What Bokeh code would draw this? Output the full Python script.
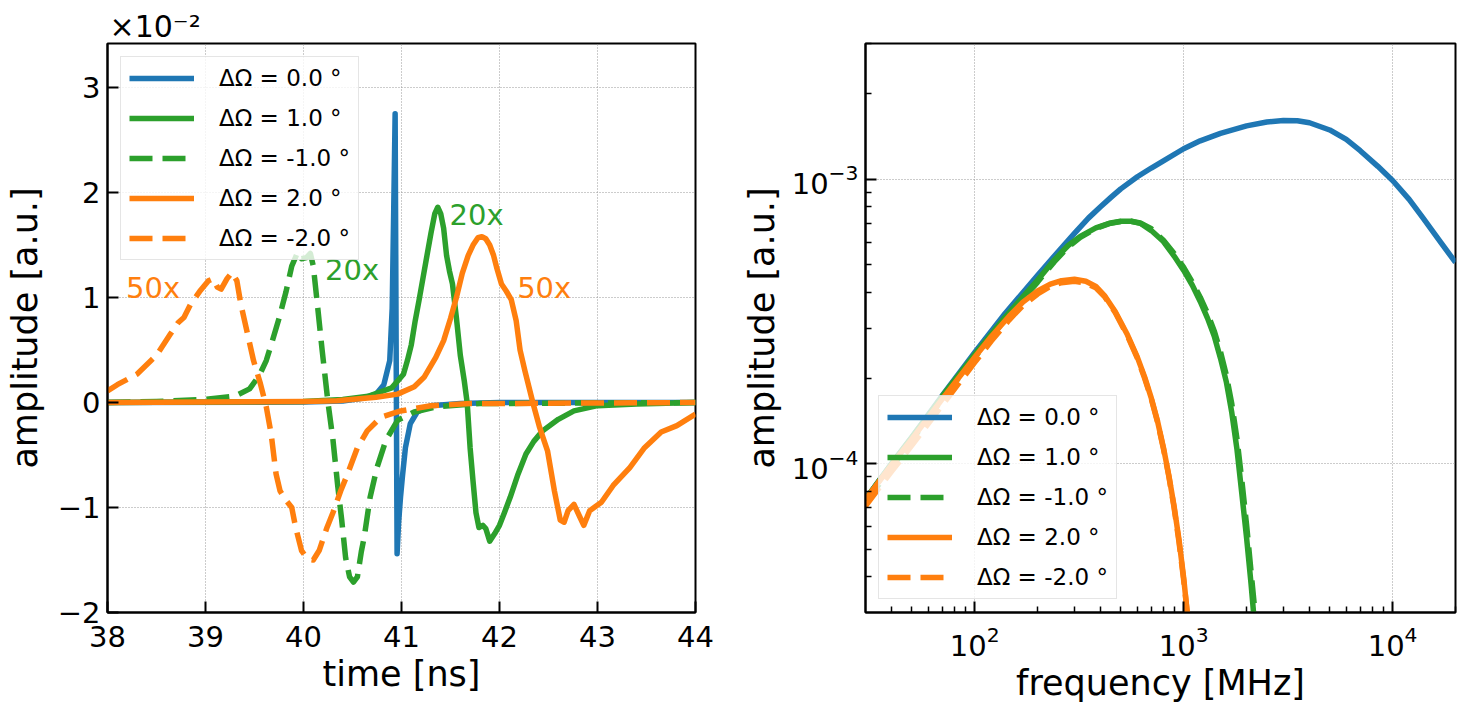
from bokeh.plotting import figure
from bokeh.layouts import row
from bokeh.models import Range1d, FixedTicker, CustomJSTickFormatter, Label, LogTickFormatter, Title
from bokeh.embed import file_html
from bokeh.resources import INLINE

FONT = "DejaVu Sans"
C_BLUE, C_GREEN, C_ORANGE = "#1f77b4", "#2ca02c", "#ff7f0e"
LW = 5.5
DASH = "23 10"

labels = ["ΔΩ = 0.0 °", "ΔΩ = 1.0 °", "ΔΩ = -1.0 °", "ΔΩ = 2.0 °", "ΔΩ = -2.0 °"]

# ---------------- time traces (amplitude in units of 1e-2) ----------------
t_b = [38.0, 40.0, 40.4, 40.6, 40.74, 40.82, 40.88, 40.905, 40.92, 40.935, 40.945, 40.955,
       40.97, 40.99, 41.01, 41.04, 41.09, 41.16, 41.30, 41.6, 42.0, 44.0]
a_b = [0.0, 0.005, 0.015, 0.04, 0.08, 0.17, 0.40, 0.9, 1.8, 2.75, 0.6, -1.44,
       -1.15, -0.90, -0.70, -0.43, -0.20, -0.09, -0.03, -0.01, 0.0, 0.0]

t_g1 = [38.0, 40.0, 40.4, 40.66, 40.9, 41.02, 41.06, 41.10, 41.14, 41.18, 41.22, 41.26, 41.30,
        41.34, 41.37, 41.40, 41.43, 41.46, 41.49, 41.52, 41.56, 41.60, 41.64, 41.67, 41.70,
        41.73, 41.76, 41.79, 41.83, 41.86, 41.90, 41.95, 42.0, 42.05, 42.11, 42.19, 42.27,
        42.35, 42.44, 42.60, 42.76, 43.0, 43.4, 44.0]
a_g1 = [0.0, 0.01, 0.03, 0.06, 0.14, 0.27, 0.40, 0.55, 0.78, 0.98, 1.19, 1.40, 1.61,
        1.80, 1.86, 1.80, 1.66, 1.40, 1.25, 1.13, 0.81, 0.45, 0.21, 0.0, -0.43,
        -0.75, -1.05, -1.19, -1.17, -1.20, -1.32, -1.25, -1.17, -1.05, -0.90, -0.68, -0.49,
        -0.37, -0.27, -0.16, -0.08, -0.03, -0.015, 0.0]

t_g2 = [38.0, 38.5, 39.0, 39.3, 39.45, 39.55, 39.62, 39.68, 39.75, 39.82, 39.88, 39.94, 39.98,
        40.03, 40.07, 40.10, 40.14, 40.19, 40.25, 40.30, 40.35, 40.39, 40.43, 40.47, 40.51,
        40.55, 40.59, 40.62, 40.68, 40.75, 40.84, 40.96, 41.13, 41.36, 41.8, 44.0]
a_g2 = [0.0, 0.01, 0.03, 0.06, 0.13, 0.26, 0.40, 0.58, 0.80, 1.05, 1.30, 1.43, 1.37,
        1.38, 1.42, 1.30, 0.95, 0.50, 0.0, -0.35, -0.80, -1.12, -1.48, -1.66, -1.71,
        -1.66, -1.42, -1.28, -0.90, -0.62, -0.36, -0.17, -0.09, -0.04, -0.01, 0.0]

t_o1 = [38.0, 40.0, 40.34, 40.74, 40.96, 41.13, 41.23, 41.35, 41.43, 41.50, 41.56, 41.62, 41.68,
        41.73, 41.78, 41.82, 41.86, 41.90, 41.94, 41.97, 42.02, 42.07, 42.12, 42.17, 42.21,
        42.26, 42.34, 42.41, 42.49, 42.56, 42.62, 42.66, 42.70, 42.76, 42.82, 42.86, 42.92,
        43.04, 43.16, 43.33, 43.48, 43.65, 43.81, 44.0]
a_o1 = [0.0, 0.01, 0.016, 0.05, 0.08, 0.15, 0.24, 0.43, 0.59, 0.80, 1.0, 1.23, 1.40,
        1.50, 1.57, 1.58, 1.56, 1.50, 1.40, 1.29, 1.13, 1.06, 0.98, 0.78, 0.50,
        0.30, 0.0, -0.24, -0.46, -0.84, -1.12, -1.14, -1.03, -0.97, -1.09, -1.17, -1.03,
        -0.95, -0.79, -0.62, -0.43, -0.28, -0.22, -0.11]

t_o2 = [38.0, 38.1, 38.3, 38.5, 38.64, 38.72, 38.78, 38.85, 38.95, 39.03, 39.08, 39.12, 39.16,
        39.22, 39.27, 39.32, 39.36, 39.43, 39.49, 39.56, 39.62, 39.67, 39.72, 39.76, 39.82,
        39.88, 39.92, 39.98, 40.04, 40.10, 40.16, 40.24, 40.30, 40.38, 40.45, 40.55, 40.65,
        40.79, 40.99, 41.30, 41.7, 44.0]
a_o2 = [0.11, 0.17, 0.27, 0.45, 0.65, 0.76, 0.81, 0.94, 1.07, 1.16, 1.18, 1.10, 1.08,
        1.18, 1.24, 1.16, 0.94, 0.65, 0.40, 0.18, -0.04, -0.30, -0.68, -0.84, -0.93,
        -1.00, -1.19, -1.41, -1.49, -1.50, -1.41, -1.19, -1.05, -0.84, -0.68, -0.43, -0.27,
        -0.14, -0.08, -0.03, -0.01, 0.0]

time_ticks = [38, 39, 40, 41, 42, 43, 44]
amp_ticks = [-2, -1, 0, 1, 2, 3]

# ---------------- spectra ----------------
f_b = [30, 40, 50, 70, 100, 140, 200, 250, 300, 350, 400, 450, 500, 600, 700, 800, 1000,
       1200, 1500, 2000, 2500, 3000, 3500, 4000, 5000, 6000, 7000, 8500, 10000, 12000,
       14000, 17000, 20000]
s_b = [7.5e-5, 1.0e-4, 1.24e-4, 1.74e-4, 2.46e-4, 3.38e-4, 4.6e-4, 5.55e-4, 6.45e-4, 7.3e-4,
       8.0e-4, 8.65e-4, 9.25e-4, 1.02e-3, 1.095e-3, 1.16e-3, 1.28e-3, 1.365e-3, 1.45e-3,
       1.54e-3, 1.59e-3, 1.61e-3, 1.605e-3, 1.58e-3, 1.49e-3, 1.38e-3, 1.26e-3, 1.11e-3,
       9.9e-4, 8.5e-4, 7.3e-4, 6.0e-4, 5.1e-4]

f_g1 = [30, 40, 50, 70, 100, 140, 200, 240, 280, 320, 380, 440, 500, 560, 620, 700, 800, 900,
        1000, 1100, 1200, 1300, 1400, 1500, 1600, 1700, 1800, 1900, 2000, 2100, 2160]
s_g1 = [7.5e-5, 1.0e-4, 1.24e-4, 1.73e-4, 2.42e-4, 3.28e-4, 4.42e-4, 5.2e-4, 5.85e-4, 6.3e-4,
        6.75e-4, 7.0e-4, 7.12e-4, 7.12e-4, 7.0e-4, 6.6e-4, 6.04e-4, 5.37e-4, 4.78e-4, 4.24e-4,
        3.72e-4, 3.25e-4, 2.81e-4, 2.35e-4, 1.94e-4, 1.51e-4, 1.12e-4, 7.8e-5, 5.5e-5, 3.8e-5,
        3.0e-5]

f_g2 = [30, 40, 50, 70, 100, 140, 200, 240, 280, 320, 380, 440, 500, 560, 620, 700, 800, 900,
        1000, 1100, 1200, 1300, 1400, 1500, 1600, 1700, 1800, 1900, 2000, 2100, 2200]
s_g2 = [7.3e-5, 9.7e-5, 1.21e-4, 1.69e-4, 2.37e-4, 3.22e-4, 4.35e-4, 5.12e-4, 5.78e-4, 6.25e-4,
        6.72e-4, 6.98e-4, 7.1e-4, 7.12e-4, 7.02e-4, 6.7e-4, 6.1e-4, 5.48e-4, 4.9e-4, 4.35e-4,
        3.85e-4, 3.38e-4, 2.93e-4, 2.48e-4, 2.05e-4, 1.62e-4, 1.22e-4, 8.7e-5, 6.1e-5, 4.2e-5,
        2.95e-5]

f_o1 = [30, 40, 50, 70, 100, 120, 146, 170, 200, 230, 260, 300, 340, 380, 420, 470, 538, 600,
        650, 700, 750, 800, 850, 900, 950, 1000, 1040]
s_o1 = [7.5e-5, 9.9e-5, 1.22e-4, 1.69e-4, 2.37e-4, 2.8e-4, 3.3e-4, 3.7e-4, 4.05e-4, 4.28e-4,
        4.4e-4, 4.45e-4, 4.38e-4, 4.2e-4, 3.88e-4, 3.43e-4, 2.84e-4, 2.37e-4, 2.02e-4, 1.70e-4,
        1.41e-4, 1.14e-4, 9.05e-5, 7.08e-5, 5.4e-5, 3.97e-5, 3.0e-5]

f_o2 = [30, 40, 50, 70, 100, 120, 146, 170, 200, 230, 260, 300, 340, 380, 420, 470, 538, 600,
        650, 700, 750, 800, 850, 900, 950, 1000, 1040]
s_o2 = [7.1e-5, 9.4e-5, 1.16e-4, 1.61e-4, 2.27e-4, 2.7e-4, 3.2e-4, 3.6e-4, 3.95e-4, 4.2e-4,
        4.33e-4, 4.38e-4, 4.32e-4, 4.15e-4, 3.85e-4, 3.4e-4, 2.82e-4, 2.35e-4, 2.0e-4, 1.69e-4,
        1.4e-4, 1.13e-4, 9.0e-5, 7.0e-5, 5.3e-5, 3.9e-5, 3.0e-5]

freq_ticks = [1e2, 1e3, 1e4]
freq_minor = [40, 50, 60, 70, 80, 90, 200, 300, 400, 500, 600, 700, 800, 900,
              2000, 3000, 4000, 5000, 6000, 7000, 8000, 9000, 20000]
spec_ticks = [1e-4, 1e-3]
spec_minor = [4e-5, 5e-5, 6e-5, 7e-5, 8e-5, 9e-5, 2e-4, 3e-4, 4e-4, 5e-4, 6e-4, 7e-4,
              8e-4, 9e-4, 2e-3, 3e-3]


def style(p, label_standoff_y):
    p.outline_line_color = "black"
    p.outline_line_width = 2
    p.outline_line_alpha = 1
    p.background_fill_color = "white"
    p.border_fill_color = "white"
    for ax in p.axis:
        ax.axis_line_width = 2
        ax.axis_line_color = "black"
        ax.major_tick_in = 11
        ax.major_tick_out = 0
        ax.major_tick_line_width = 2
        ax.major_tick_line_color = "black"
        ax.minor_tick_in = 6
        ax.minor_tick_out = 0
        ax.minor_tick_line_width = 1.5
        ax.minor_tick_line_color = "black"
        ax.major_label_text_font = FONT
        ax.major_label_text_font_size = "29px"
        ax.major_label_text_color = "black"
        ax.axis_label_text_font = FONT
        ax.axis_label_text_font_size = "35px"
        ax.axis_label_text_font_style = "normal"
        ax.axis_label_text_color = "black"
    p.xaxis.major_label_standoff = 13
    p.xaxis.axis_label_standoff = 4
    p.yaxis.major_label_standoff = 7
    p.yaxis.axis_label_standoff = label_standoff_y
    for g in p.grid:
        g.grid_line_color = "#999999"
        g.grid_line_dash = "1 2"
        g.grid_line_width = 1


def style_legend(p, loc):
    lg = p.legend[0]
    lg.location = loc
    lg.margin = 13
    lg.padding = 8
    lg.spacing = 14
    lg.glyph_width = 65
    lg.glyph_height = 22
    lg.label_height = 22
    lg.label_standoff = 25
    lg.label_text_font = FONT
    lg.label_text_font_size = "23px"
    lg.label_text_color = "black"
    lg.label_text_baseline = "middle"
    lg.border_line_color = "#cccccc"
    lg.border_line_width = 1.5
    lg.background_fill_color = "white"
    lg.background_fill_alpha = 0.8


# ---------------- left figure ----------------
p1 = figure(frame_width=588, frame_height=569, min_border_left=107, min_border_right=43,
            min_border_top=43, min_border_bottom=100,
            x_range=Range1d(38, 44), y_range=Range1d(-2, 3.42),
            output_backend="svg", toolbar_location=None)
p1.title.text = "×10⁻²"
p1.title.align = "left"
p1.title.text_font = FONT
p1.title.text_font_size = "30px"
p1.title.text_font_style = "normal"
p1.title.text_color = "black"
p1.title.standoff = 0
p1.title.offset = 2
p1.xaxis.ticker = FixedTicker(ticks=time_ticks, minor_ticks=[])
p1.yaxis.ticker = FixedTicker(ticks=amp_ticks, minor_ticks=[])
p1.yaxis.formatter = CustomJSTickFormatter(
    code="return tick < 0 ? '\u2212' + String(-tick) : String(tick);")
p1.xaxis.axis_label = "time [ns]"
p1.yaxis.axis_label = "amplitude [a.u.]"
style(p1, 10)

series1 = [(t_b, a_b, C_BLUE, "solid"), (t_g1, a_g1, C_GREEN, "solid"),
           (t_g2, a_g2, C_GREEN, DASH), (t_o1, a_o1, C_ORANGE, "solid"),
           (t_o2, a_o2, C_ORANGE, DASH)]
for (xs, ys, c, d), lab in zip(series1, labels):
    p1.line(xs, ys, line_color=c, line_width=LW, line_dash=d, line_join="round",
            line_cap="butt", legend_label=lab)
style_legend(p1, "top_left")

for x, y, txt, c in [(38.19, 1.09, "50x", C_ORANGE), (40.22, 1.26, "20x", C_GREEN),
                     (41.49, 1.79, "20x", C_GREEN), (42.18, 1.09, "50x", C_ORANGE)]:
    p1.add_layout(Label(x=x, y=y, text=txt, text_color=c, text_font=FONT,
                        text_font_size="29px", text_baseline="middle", text_align="left"))

# ---------------- right figure ----------------
p2 = figure(frame_width=590, frame_height=569, min_border_left=124, min_border_right=10,
            min_border_top=43, min_border_bottom=100,
            x_axis_type="log", y_axis_type="log",
            x_range=Range1d(30, 2e4), y_range=Range1d(3e-5, 3e-3),
            output_backend="svg", toolbar_location=None)
p2.xaxis.ticker = FixedTicker(ticks=freq_ticks, minor_ticks=freq_minor)
p2.yaxis.ticker = FixedTicker(ticks=spec_ticks, minor_ticks=spec_minor)
p2.xgrid.ticker = FixedTicker(ticks=freq_ticks)
p2.ygrid.ticker = FixedTicker(ticks=spec_ticks)
p2.xaxis.formatter = LogTickFormatter()
p2.yaxis.formatter = LogTickFormatter()
p2.xaxis.axis_label = "frequency [MHz]"
p2.yaxis.axis_label = "amplitude [a.u.]"
style(p2, 7)

series2 = [(f_b, s_b, C_BLUE, "solid"), (f_g1, s_g1, C_GREEN, "solid"),
           (f_g2, s_g2, C_GREEN, DASH), (f_o1, s_o1, C_ORANGE, "solid"),
           (f_o2, s_o2, C_ORANGE, DASH)]
for (xs, ys, c, d), lab in zip(series2, labels):
    p2.line(xs, ys, line_color=c, line_width=LW, line_dash=d, line_join="round",
            legend_label=lab)
style_legend(p2, "bottom_left")

layout = row(p1, p2)
open("out.html", "w").write(file_html(layout, INLINE))
